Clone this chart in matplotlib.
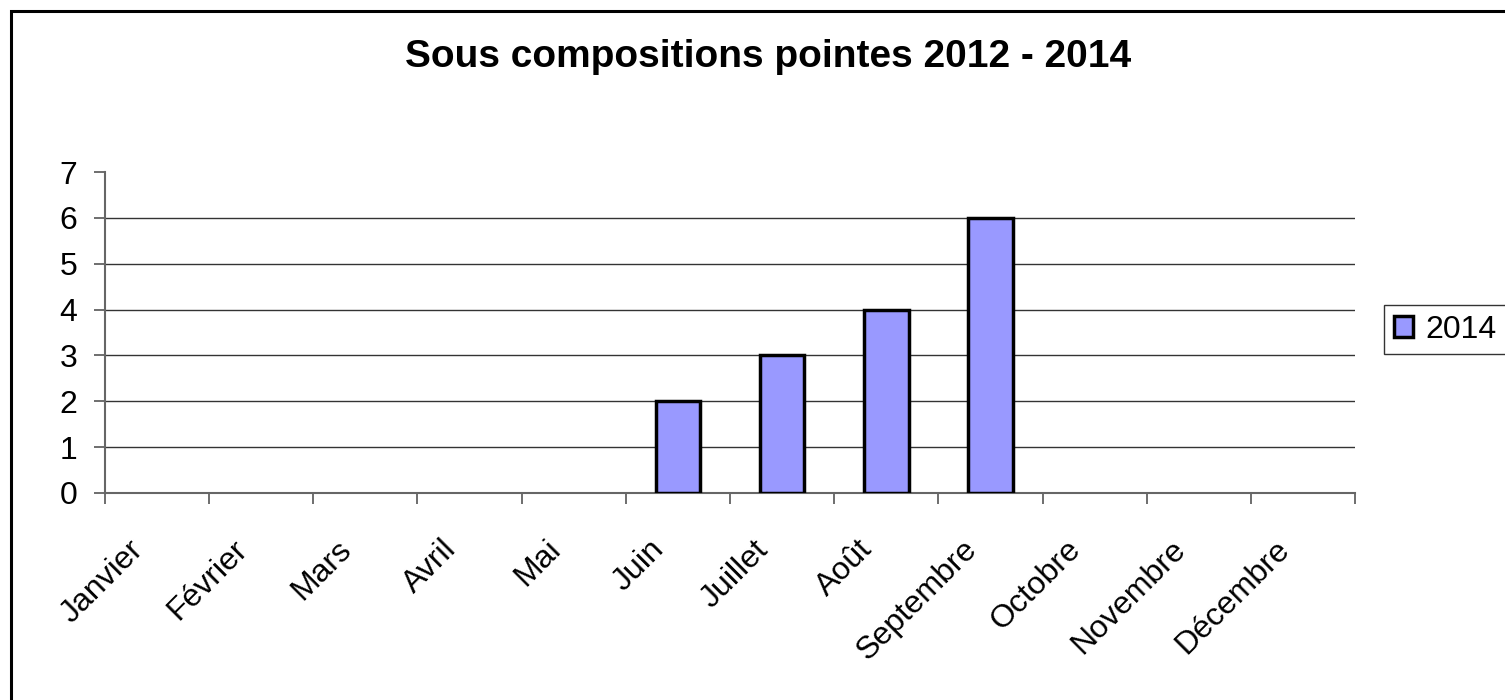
import matplotlib.pyplot as plt
from matplotlib.patches import Rectangle
import matplotlib.transforms as mtransforms
import numpy as np

plt.rcParams["font.family"] = ["Liberation Sans", "DejaVu Sans"]

months = ["Janvier", "Février", "Mars", "Avril", "Mai", "Juin", "Juillet",
          "Août", "Septembre", "Octobre", "Novembre", "Décembre"]
values_2014 = [0, 0, 0, 0, 0, 2, 3, 4, 6, 0, 0, 0]
series_name = "2014"
title = "Sous compositions pointes 2012 - 2014"

bar_color = "#9999FF"

W, H = 1505, 700
fig = plt.figure(figsize=(W / 100, H / 100), dpi=100)

# outer chart border (cut off at right and bottom like the original)
fig.patches.append(Rectangle((11 / W, -0.1), 1.2, 1 - 11 / H + 0.1,
                             transform=fig.transFigure, fill=False,
                             edgecolor="black", linewidth=2.2))

ax = fig.add_axes([105 / W, 1 - 493 / H, 1250 / W, (493 - 172) / H])
x = np.arange(len(months))
bars = ax.bar(x, values_2014, width=0.43, color=bar_color, edgecolor="black",
              linewidth=2.5, zorder=3)
# empty months show no outline
for b, v in zip(bars, values_2014):
    if v == 0:
        b.set_visible(False)

ax.set_xlim(-0.5, len(months) - 0.5)
ax.set_ylim(0, 7)
ax.set_yticks(range(0, 8))
for v in range(1, 7):
    ax.axhline(v, color="#333333", linewidth=1.0, zorder=1)

ax.set_xticks(np.arange(-0.5, len(months), 1.0))
ax.set_xticklabels([])
ax.tick_params(axis="x", which="major", length=8, width=1.2, color="#555555")
ax.tick_params(axis="y", length=8, width=1.2, color="#555555",
               labelsize=23, pad=12)

# month labels, rotated, ending a little left of the category centre
shift = mtransforms.ScaledTranslation(-18 / 100, -52 / 100, fig.dpi_scale_trans)
xform = ax.get_xaxis_transform() + shift
for xi, m in zip(x, months):
    ax.text(xi, 0, m, transform=xform, rotation=45, ha="right", va="center",
            rotation_mode="anchor", fontsize=23)

for s in ["top", "right"]:
    ax.spines[s].set_visible(False)
for s in ["left", "bottom"]:
    ax.spines[s].set_color("#666666")
    ax.spines[s].set_linewidth(1.5)

fig.text(768 / W, 1 - 67 / H, title, ha="center", va="baseline",
         fontsize=28, fontweight="bold")

handle = Rectangle((0, 0), 1, 1, facecolor=bar_color, edgecolor="black",
                   linewidth=2.5)
leg = ax.legend([handle], [series_name], loc="upper left",
                bbox_to_anchor=(1384 / W, 1 - 305 / H),
                bbox_transform=fig.transFigure, fontsize=23, frameon=True,
                fancybox=False, handlelength=0.62, handleheight=0.62,
                handletextpad=0.38, borderpad=0.3, borderaxespad=0)
leg.get_frame().set_edgecolor("black")
leg.get_frame().set_linewidth(1.0)

fig.savefig("out.png", dpi=100)
